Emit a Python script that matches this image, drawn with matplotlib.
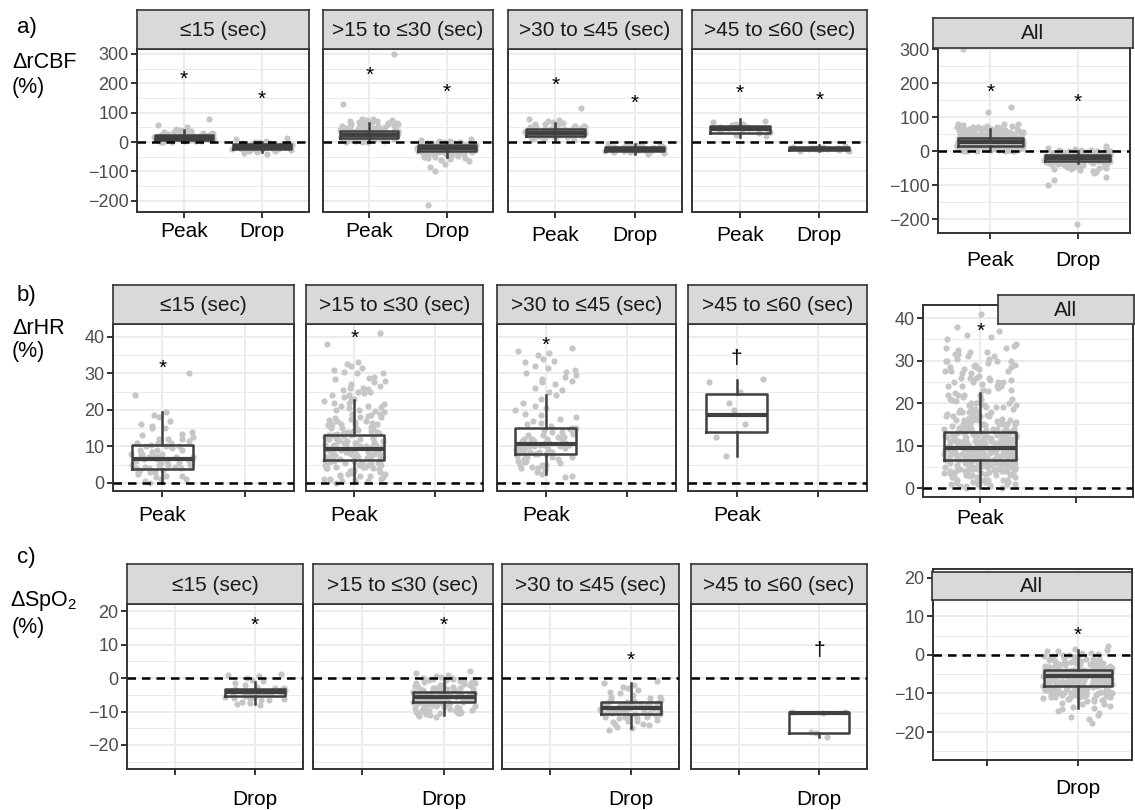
import numpy as np
import matplotlib
matplotlib.use("Agg")
import matplotlib.pyplot as plt

plt.rcParams['font.family'] = ['Liberation Sans', 'DejaVu Sans']
plt.rcParams['mathtext.fontset'] = 'custom'
plt.rcParams['mathtext.rm'] = 'Liberation Sans'
plt.rcParams['mathtext.it'] = 'Liberation Sans'
plt.rcParams['axes.unicode_minus'] = True

# ---------------- data ----------------
facet_labels = ["≤15 (sec)", ">15 to ≤30 (sec)", ">30 to ≤45 (sec)", ">45 to ≤60 (sec)"]
all_label = "All"
categories = ["Peak", "Drop"]

# a) rCBF change (%) per event-duration group
cbf_peak_1 = [80, 58, 50, 45, 40, 38, 36, 35, 33, 32, 30, 29, 28, 27, 26, 25, 24, 23, 22, 21, 20, 20, 19, 18, 18,
              17, 16, 16, 15, 15, 14, 14, 13, 12, 12, 11, 10, 10, 9, 8, 8, 7, 6, 5, 5, 4, 3, 2, 1, 0, 25, 22, 18,
              15, 12, 30, 28, 20, 10, 6]
cbf_drop_1 = [15, 10, 5, 2, 0, -2, -4, -5, -6, -8, -9, -10, -11, -12, -13, -14, -15, -15, -16, -17, -18, -19, -20,
              -21, -22, -23, -24, -25, -26, -28, -30, -32, -35, -38, -40, -12, -18, -8, -22, -14]
cbf_peak_2 = [300, 130, 80, 78, 75, 73, 72, 70, 68, 66, 65, 63, 62, 60, 58, 57, 55, 54, 52, 50, 49, 48, 46, 45, 44,
              42, 41, 40, 39, 38, 38, 37, 36, 35, 35, 34, 33, 32, 32, 31, 30, 30, 29, 28, 28, 27, 27, 26, 26, 25,
              25, 24, 24, 23, 23, 22, 22, 21, 20, 20, 19, 19, 18, 18, 17, 16, 16, 15, 15, 14, 13, 12, 12, 11, 10,
              10, 9, 8, 7, 6, 5, 4, 3, 2, 1, 0, 60, 70, 45, 20, 28, 35, 15, 10, 5, 12, 18, 24, 30, 36, 42, 48, 54,
              66, 74, 8, 14, 22, 26, 33, 40, 47, 56, 64, 3, 11, 17, 21, 29, 37]
cbf_drop_2 = [10, 8, 5, 3, 0, -2, -4, -5, -6, -8, -9, -10, -10, -11, -12, -13, -14, -15, -15, -16, -17, -18, -18,
              -19, -20, -20, -21, -22, -22, -23, -24, -25, -25, -26, -27, -28, -29, -30, -30, -31, -33, -35, -36,
              -38, -40, -42, -44, -46, -48, -50, -52, -55, -58, -60, -65, -75, -85, -100, -215, -20, -15, -25, -30,
              -12, -35, -45, -3, -7, -11, -16, -19, -23, -27, -32, -37, -41, -47, -53, 2, -1, -9, -14, -21, -26,
              -34, -39]
cbf_peak_3 = [115, 80, 75, 72, 70, 65, 62, 60, 58, 56, 55, 53, 52, 50, 48, 47, 46, 45, 44, 42, 41, 40, 39, 38, 37,
              36, 35, 34, 33, 32, 31, 30, 30, 29, 28, 27, 26, 25, 24, 23, 22, 21, 20, 19, 18, 17, 16, 15, 14, 12,
              10, 8, 35, 40, 28, 45, 25, 32, 38, 30, 22, 27, 33, 43, 51, 36, 29, 24, 18, 41]
cbf_drop_3 = [-5, -8, -10, -12, -13, -14, -15, -16, -17, -18, -19, -20, -20, -21, -22, -22, -23, -24, -25, -25, -26,
              -27, -28, -29, -30, -31, -32, -33, -35, -37, -40, -20, -18, -24, -28, -15, -22, -26, -30, -12, -17,
              -21, -23, -27, -19, -25, -29, -16]
cbf_peak_4 = [72, 68, 62, 58, 55, 52, 50, 48, 45, 42, 40, 38, 35, 30, 25, 20, 60, 47]
cbf_drop_4 = [-12, -15, -18, -20, -21, -22, -23, -24, -25, -27, -28, -30, -32, -20, -25]

# box statistics: (whisker low, q1, median, q3, whisker high)
cbf_peak_box = [(0, 8, 15, 25, 40), (0, 15, 25, 38, 65), (7, 20, 32, 45, 65), (17, 32, 45, 55, 78), (0, 15, 28, 40, 65)]
cbf_drop_box = [(-35, -22, -15, -8, 0), (-50, -30, -20, -10, 0), (-40, -30, -22, -15, -5), (-32, -28, -22, -18, -10),
                (-35, -28, -20, -12, 0)]
cbf_peak_mark = [215, 228, 195, 167, 175]
cbf_drop_mark = [147, 170, 133, 143, 145]

# b) rHR change (%)
hr_peak_1 = [30, 24, 19.5, 18.5, 18, 17, 16, 15.5, 15, 14, 13.5, 13, 12.5, 12, 12, 11.5, 11, 11, 10.5, 10, 10, 9.5,
             9, 9, 8.5, 8, 8, 8, 7.5, 7, 7, 7, 6.5, 6.5, 6, 6, 6, 5.5, 5.5, 5, 5, 5, 4.5, 4.5, 4, 4, 3.5, 3.5, 3, 3,
             2.5, 2, 2, 1.5, 1, 1, 0.5, 0, 7, 8, 6, 9, 5, 11, 4, 12, 10, 3, 15, 7.5]
hr_peak_2 = [41, 38, 33, 32.5, 32, 31.5, 31, 30.5, 30, 30, 29, 28.5, 28, 27.5, 27, 26.5, 26, 26, 25.5, 25, 25, 24.5,
             24, 24, 23.5, 23, 22.5, 22, 22, 21.5, 21, 21, 20.5, 20, 20, 19.5, 19, 19, 18.5, 18, 18, 17.5, 17, 17,
             16.5, 16, 16, 16, 15.5, 15, 15, 15, 14.5, 14, 14, 14, 13.5, 13.5, 13, 13, 13, 12.5, 12.5, 12, 12, 12,
             11.5, 11.5, 11, 11, 11, 10.5, 10.5, 10, 10, 10, 10, 9.5, 9.5, 9.5, 9, 9, 9, 9, 8.5, 8.5, 8.5, 8, 8, 8,
             8, 7.5, 7.5, 7.5, 7, 7, 7, 7, 6.5, 6.5, 6.5, 6, 6, 6, 5.5, 5.5, 5, 5, 5, 4.5, 4.5, 4, 4, 3.5, 3.5, 3,
             3, 2.5, 2.5, 2, 2, 1.5, 1, 1, 0.5, 0.5, 0,
             1.2, 2.2, 3.2, 4.2, 5.2, 6.2, 7.2, 8.2, 9.2, 10.2, 11.2, 12.2, 13.2, 14.2, 15.2, 16.2, 17.2, 18.4,
             19.6, 20.8, 1.8, 2.8, 3.8, 4.8, 5.8, 6.8, 7.8, 8.8, 9.8, 10.8, 11.8, 12.8, 13.8, 14.8, 15.8, 16.8,
             17.8, 22.8, 25.8, 28.8, 0.8, 4.4, 6.4, 8.4, 10.4, 12.4, 14.4, 5.6, 7.6, 9.6, 11.6, 13.6]
hr_peak_3 = [37, 36, 35.5, 35, 34, 33.5, 33, 32, 31.5, 31, 30.5, 30, 29.5, 29, 28.5, 28, 27.5, 27, 26, 25.5, 25, 24,
             23, 22, 21, 20.5, 20, 19, 18.5, 18, 17.5, 17, 16.5, 16, 15.5, 15, 15, 14.5, 14, 14, 13.5, 13, 13, 12.5,
             12.5, 12, 12, 12, 11.5, 11.5, 11, 11, 11, 10.5, 10.5, 10.5, 10, 10, 10, 9.5, 9.5, 9.5, 9, 9, 9, 8.5,
             8.5, 8.5, 8, 8, 8, 7.5, 7.5, 7, 7, 6.5, 6.5, 6, 6, 5.5, 5, 5, 4.5, 4, 4, 3.5, 3, 2.5, 2, 1.5,
             8.2, 9.2, 10.2, 11.2, 12.2, 7.2, 6.2, 9.8, 10.8, 11.8, 13.8, 8.8, 5.8, 4.8, 14.8]
hr_peak_4 = [28.5, 27.5, 25, 22, 20, 16, 12.5, 7.5]
hr_peak_box = [(0, 3.8, 6.5, 10.4, 19.5), (0.5, 6.4, 9.4, 13, 22.7), (2.5, 7.9, 10.7, 15, 24),
               (7.3, 13.9, 18.5, 24.3, 28.2), (0, 6.5, 9.4, 13.2, 22.5)]
hr_peak_mark = [31.3, 39.5, 37.7, 34.0, 36.9]
hr_peak_symbol = ["*", "*", "*", "†", "*"]

# c) SpO2 change (%)
spo2_drop_1 = [1.2, 1, 0.5, 0, -0.5, -1, -1.5, -2, -2.5, -2.8, -3, -3.2, -3.4, -3.6, -3.8, -4, -4, -4.2, -4.2, -4.4,
               -4.6, -4.8, -5, -5, -5.2, -5.4, -5.6, -5.8, -6, -6.3, -6.6, -7, -7.3, -7.7, -8, -4.5, -3.5, -5.5, -4,
               -6.5]
spo2_drop_2 = [2.2, 1.5, 1, 0.5, 0.3, 0, 0, -0.3, -0.5, -0.8, -1, -1.2, -1.5, -1.8, -2, -2.2, -2.5, -2.7, -3, -3,
               -3.2, -3.4, -3.5, -3.6, -3.8, -4, -4, -4.1, -4.2, -4.3, -4.4, -4.5, -4.5, -4.6, -4.7, -4.8, -4.9, -5,
               -5, -5.1, -5.2, -5.3, -5.4, -5.5, -5.5, -5.6, -5.7, -5.8, -5.9, -6, -6, -6.1, -6.2, -6.3, -6.4, -6.5,
               -6.5, -6.6, -6.7, -6.8, -6.9, -7, -7, -7.2, -7.4, -7.5, -7.7, -8, -8, -8.2, -8.5, -8.7, -9, -9, -9.3,
               -9.5, -9.8, -10, -10, -10.3, -10.5, -10.8, -11, -11.2, -11.5, -2, -3, -4, -5, -6, -7, -8, -9, -10, -1,
               -5.5, -6.5, -4.5, -7.5, -0.6, -1.6, -2.6, -3.6, -4.6, -5.6, -6.6, -7.6, -8.6, -9.6, -10.6, -0.2,
               -1.4, -2.4, -3.4, -4.4, -5.4, -6.4, -7.4, -8.4, -9.4, -10.4, -3.1, -5.1, -7.1, -9.1]
spo2_drop_3 = [-1, -1.5, -2, -2.5, -3, -3.5, -4, -4.5, -5, -5.5, -6, -6.3, -6.6, -7, -7.2, -7.4, -7.6, -7.8, -8, -8,
               -8.2, -8.4, -8.6, -8.8, -9, -9, -9.2, -9.4, -9.6, -9.8, -10, -10, -10.2, -10.4, -10.6, -10.8, -11,
               -11.3, -11.6, -12, -12.4, -12.8, -13.2, -13.6, -14, -14.5, -15, -15.5, -8.5, -9.5, -7.5, -10.5, -6.8,
               -11.5, -9, -8, -10, -12, -5.7, -6.7, -7.7, -8.7, -9.7, -10.7, -11.7, -12.7, -13.7, -7.9, -8.9, -9.9]
spo2_drop_4 = [-10, -10, -10.5, -16.2, -16.5, -17.6]
spo2_drop_box = [(-7.7, -5.2, -4.2, -3.2, -1.2), (-11, -7, -5.5, -4, 0), (-15, -10.6, -8.9, -7, -1.5),
                 (-17.6, -16.4, -10.5, -10, -10), (-13.7, -8, -5.6, -4, 1.3)]
spo2_drop_mark = [15.7, 15.7, 5.3, 8.3, 5.1]
spo2_drop_symbol = ["*", "*", "*", "†", "*"]

# ---------------- layout / style ----------------
W, H = 1135, 810
fig = plt.figure(figsize=(W / 100, H / 100), dpi=100)

PT_COL = "#c6c6c6"
BOX_COL = "#404040"
GRID = "#ebebeb"
BORDER = "#333333"


def px_axes(l, t, r, b):
    return fig.add_axes([l / W, 1 - b / H, (r - l) / W, (b - t) / H])


def strip(box, text):
    l, t, r, b = box
    s = px_axes(l, t, r, b)
    s.set_facecolor("#d9d9d9")
    s.set_xticks([]); s.set_yticks([])
    for sp in s.spines.values():
        sp.set_color(BORDER); sp.set_linewidth(1.2)
    s.text(0.5, 0.47, text, ha="center", va="center", fontsize=15, color="#1a1a1a", transform=s.transAxes)
    s.set_zorder(5)
    return s


def jitter(n):
    # deterministic hash-based horizontal spread (position only, not data)
    h = np.sin((np.arange(n) + 1) * 12.9898) * 43758.5453
    return ((h % 1.0) * 2 - 1) * 0.38


def panel(box, groups, ylim, major, minor, show_y, xlabels, xpad):
    l, t, r, b = box
    ax = px_axes(l, t, r, b)
    ax.set_xlim(0.4, 2.6)
    ax.set_ylim(*ylim)
    ax.set_axisbelow(True)
    ax.set_xticks([1, 2])
    ax.set_xticklabels(xlabels)
    ax.set_yticks(major)
    ax.set_yticks(minor, minor=True)
    ax.grid(True, which="major", color=GRID, lw=1.3)
    ax.grid(True, which="minor", axis="y", color=GRID, lw=0.7)
    for sp in ax.spines.values():
        sp.set_color(BORDER); sp.set_linewidth(1.4)
    ax.tick_params(axis="x", which="major", length=4, width=1.4, color=BORDER, labelsize=15,
                   labelcolor="black", pad=xpad)
    ax.tick_params(axis="y", which="major", length=4 if show_y else 0, width=1.4, color=BORDER,
                   labelsize=13, labelcolor="#4d4d4d", pad=2, labelleft=show_y)
    ax.tick_params(axis="y", which="minor", length=0)
    for pos, vals, st, mark, sym in groups:
        v = np.asarray(vals, dtype=float)
        ax.scatter(pos + jitter(len(v)), v, s=20, color=PT_COL, lw=0, zorder=2)
        lo, q1, med, q3, hi = st
        ax.bxp([dict(whislo=lo, q1=q1, med=med, q3=q3, whishi=hi, fliers=[])], positions=[pos], widths=0.75,
               showfliers=False, showcaps=False, patch_artist=False,
               boxprops=dict(color=BOX_COL, lw=1.8), whiskerprops=dict(color=BOX_COL, lw=1.8),
               medianprops=dict(color=BOX_COL, lw=3.0), manage_ticks=False, zorder=3)
        ax.text(pos, mark, sym, ha="center", va="center", fontsize=15, color="black", zorder=4)
    ax.axhline(0, color="black", lw=1.8, ls=(0, (3.4, 2.4)), zorder=4)
    return ax


# row a
A_AXES = [(137, 49, 309, 212), (323, 49, 493, 212), (508, 49, 682, 212), (692, 49, 867, 212)]
A_STRIPS = [(137, 10, 309, 49), (323, 10, 493, 49), (508, 10, 682, 49), (692, 10, 867, 49)]
A_ALL_AXES, A_ALL_STRIP = (938, 47, 1130, 233), (933, 18, 1133, 48)
A_XPAD = [3, 3, 6, 6, 9]

# row b
B_AXES = [(113, 324, 294, 491), (306, 324, 483, 491), (497, 324, 676, 491), (688, 324, 867, 491)]
B_STRIPS = [(113, 285, 294, 324), (306, 285, 483, 324), (497, 285, 676, 324), (688, 285, 867, 324)]
B_ALL_AXES, B_ALL_STRIP = (923, 305, 1133, 497), (998, 295, 1134, 324)
B_XPAD = [7, 7, 7, 7, 5]

# row c
C_AXES = [(127, 604, 303, 769), (313, 604, 493, 769), (502, 604, 679, 769), (691, 604, 867, 769)]
C_STRIPS = [(127, 564, 303, 604), (313, 564, 493, 604), (502, 564, 679, 604), (691, 564, 867, 604)]
C_ALL_AXES, C_ALL_STRIP = (933, 569, 1132, 760), (932, 572, 1132, 600)
C_XPAD = [11, 11, 11, 11, 10]

cbf_peak = [cbf_peak_1, cbf_peak_2, cbf_peak_3, cbf_peak_4]
cbf_drop = [cbf_drop_1, cbf_drop_2, cbf_drop_3, cbf_drop_4]
hr_peak = [hr_peak_1, hr_peak_2, hr_peak_3, hr_peak_4]
spo2_drop = [spo2_drop_1, spo2_drop_2, spo2_drop_3, spo2_drop_4]
# "All" panels pool the four duration groups
cbf_peak.append(sum(cbf_peak, []))
cbf_drop.append(sum(cbf_drop, []))
hr_peak.append(sum(hr_peak, []))
spo2_drop.append(sum(spo2_drop, []))

a_major = [-200, -100, 0, 100, 200, 300]
a_minor = [-150, -50, 50, 150, 250]
b_major = [0, 10, 20, 30, 40]
b_minor = [5, 15, 25, 35]
c_major = [-20, -10, 0, 10, 20]
c_minor = [-25, -15, -5, 5, 15]

for i in range(5):
    box = A_AXES[i] if i < 4 else A_ALL_AXES
    ylim = (-238, 317) if i < 4 else (-240, 307)
    panel(box, [(1, cbf_peak[i], cbf_peak_box[i], cbf_peak_mark[i], "*"),
                (2, cbf_drop[i], cbf_drop_box[i], cbf_drop_mark[i], "*")],
          ylim, a_major, a_minor, i in (0, 4), categories, A_XPAD[i])
    strip(A_STRIPS[i] if i < 4 else A_ALL_STRIP, facet_labels[i] if i < 4 else all_label)

for i in range(5):
    box = B_AXES[i] if i < 4 else B_ALL_AXES
    ylim = (-2.2, 43.5) if i < 4 else (-2.1, 43.1)
    panel(box, [(1, hr_peak[i], hr_peak_box[i], hr_peak_mark[i], hr_peak_symbol[i])],
          ylim, b_major, b_minor, i in (0, 4), [categories[0], ""], B_XPAD[i])
    strip(B_STRIPS[i] if i < 4 else B_ALL_STRIP, facet_labels[i] if i < 4 else all_label)

for i in range(5):
    box = C_AXES[i] if i < 4 else C_ALL_AXES
    panel(box, [(2, spo2_drop[i], spo2_drop_box[i], spo2_drop_mark[i], spo2_drop_symbol[i])],
          (-27.2, 22.2), c_major, c_minor, i in (0, 4), ["", categories[1]], C_XPAD[i])
    strip(C_STRIPS[i] if i < 4 else C_ALL_STRIP, facet_labels[i] if i < 4 else all_label)


# row labels
def ftext(x, y, s, size):
    fig.text(x / W, 1 - y / H, s, ha="left", va="center", fontsize=size, color="black")


ftext(17, 27, "a)", 16)
ftext(12, 63, "ΔrCBF", 15.5)
ftext(12, 87, "(%)", 15.5)
ftext(17, 295, "b)", 16)
ftext(12, 328, "ΔrHR", 15.5)
ftext(12, 351, "(%)", 15.5)
ftext(17, 557, "c)", 16)
ftext(10, 601, r"ΔSpO$_{2}$", 15.5)
ftext(12, 628, "(%)", 15.5)

fig.savefig("out.png", dpi=100, facecolor="white")
